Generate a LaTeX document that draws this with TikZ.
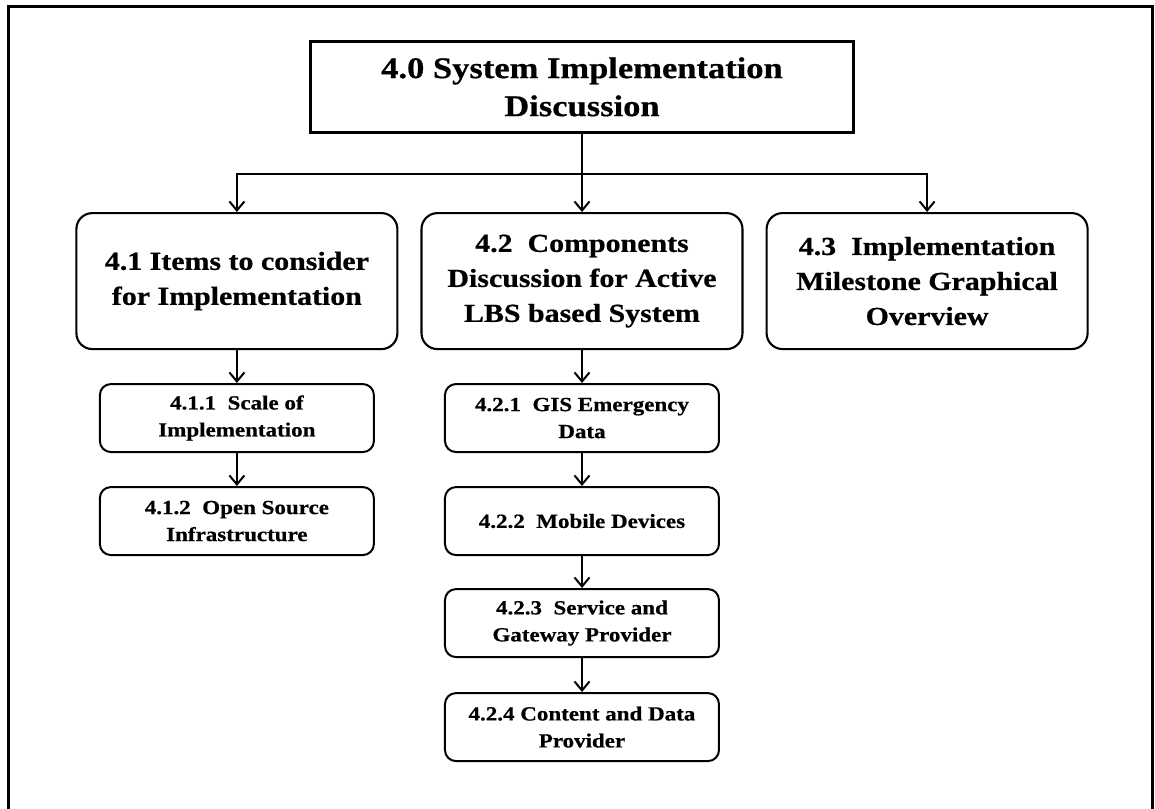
\documentclass[tikz,border=0pt]{standalone}
\usepackage{fontspec}
\setmainfont{Liberation Serif}[FakeStretch=1.15,FakeBold=0.6]
\usepackage{tikz-qtree}
\usetikzlibrary{arrows.meta,calc}
\tikzset{sibling distance=22pt,
    every tree node/.style={align=center,anchor=north},
    edge from parent/.style={draw=none},
    level 1/.style={level distance=172pt},
    level 2/.style={level distance=171pt},
    level 3/.style={level distance=103pt},
    level 4/.style={level distance=102pt},
    level 5/.style={level distance=104pt},
    topbox/.style={draw,line width=2.7pt,minimum width=543pt,minimum height=91pt,
        inner sep=0pt,font=\fontsize{30}{38}\selectfont\bfseries},
    secbox/.style={draw,line width=2.1pt,rounded corners=16pt,minimum width=321pt,
        minimum height=136pt,inner sep=0pt,font=\fontsize{26}{35}\selectfont\bfseries},
    subbox/.style={draw,line width=2pt,rounded corners=11pt,minimum width=274pt,
        minimum height=68pt,inner sep=0pt,font=\fontsize{20}{27}\selectfont\bfseries},
    link/.style={line width=2pt,-{Straight Barb[length=9pt,width=15pt,line width=2pt]}},
    }
\begin{document}
\begin{tikzpicture}[x=1pt,y=1pt]
\useasboundingbox (0,0) rectangle (1155,-808);
\draw[line width=3pt] (8,-7) rectangle (1152,-840);
\begin{scope}[shift={(582,-40)}]
\Tree
[.\node[topbox](t40){4.0 System Implementation\\Discussion};
  [.\node[secbox](t41){4.1 Items to consider\\for Implementation};
    [.\node[subbox](t411){4.1.1~ Scale of\\Implementation};
      \node[subbox](t412){4.1.2~ Open Source\\Infrastructure};
    ]%t411
  ]%t41
  [.\node[secbox](t42){4.2~ Components\\Discussion for Active\\LBS based System};
    [.\node[subbox](t421){4.2.1~ GIS Emergency\\Data};
      [.\node[subbox](t422){4.2.2~ Mobile Devices};
        [.\node[subbox](t423){4.2.3~ Service and\\Gateway Provider};
          \node[subbox](t424){4.2.4 Content and Data\\Provider};
        ]%t423
      ]%t422
    ]%t421
  ]%t42
  \node[secbox](t43){4.3~ Implementation\\Milestone Graphical\\Overview};
]%t40
\end{scope}
% connectors
\coordinate (split) at ($(t40.south)+(0,-40)$);
\draw[link] (t40.south) -- (t42.north);
\draw[link] (split) -| (t41.north);
\draw[link] (split) -| (t43.north);
\draw[link] (t41.south) -- (t411.north);
\draw[link] (t411.south) -- (t412.north);
\draw[link] (t42.south) -- (t421.north);
\draw[link] (t421.south) -- (t422.north);
\draw[link] (t422.south) -- (t423.north);
\draw[link] (t423.south) -- (t424.north);
\end{tikzpicture}
\end{document}
